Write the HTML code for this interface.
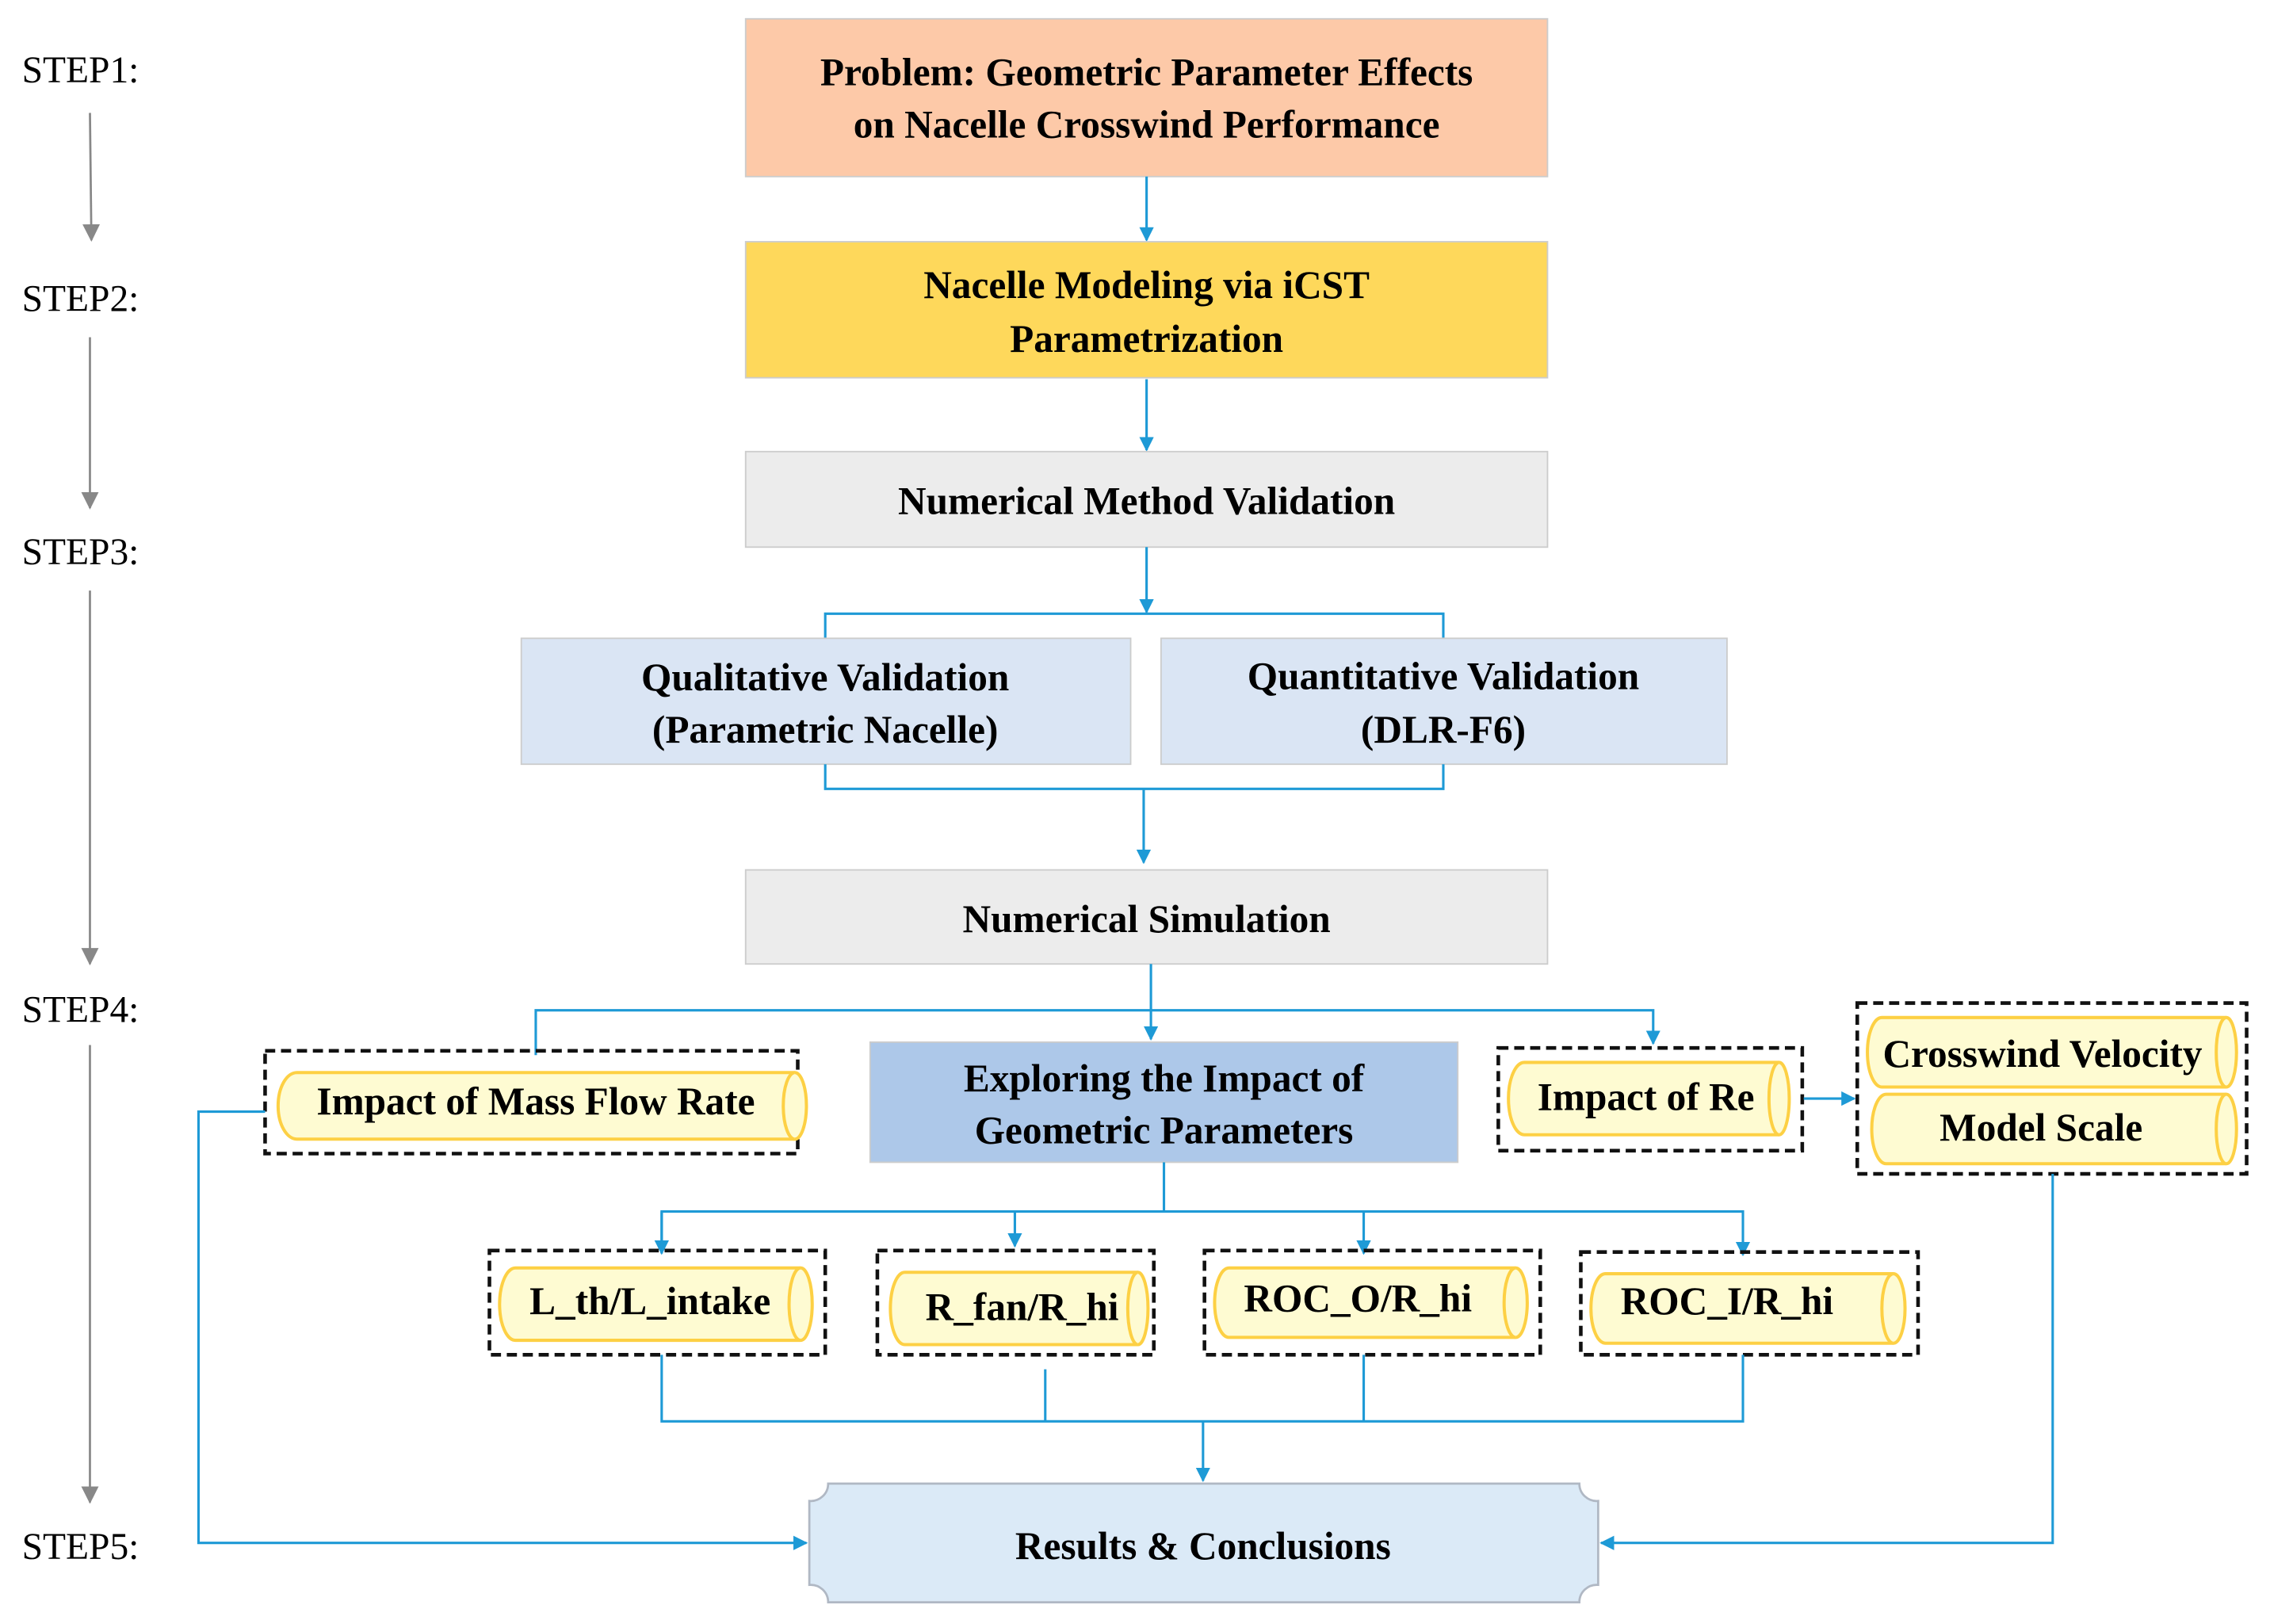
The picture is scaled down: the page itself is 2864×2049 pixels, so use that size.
<!DOCTYPE html>
<html><head><meta charset="utf-8"><style>
html,body{margin:0;padding:0;background:#fff;}
svg{display:block;}
text{font-family:"Liberation Serif",serif;font-weight:bold;font-size:27px;fill:#000;text-anchor:middle;}
.step{font-weight:normal;text-anchor:start;font-size:26px;}
.bl{stroke:#1e9ad6;stroke-width:1.7;fill:none;}
.gr{stroke:#888;stroke-width:1.5;fill:none;}
.dash{fill:none;stroke:#111;stroke-width:2.5;stroke-dasharray:7,4;}
.cyl{fill:#fefbd2;stroke:#fdd044;stroke-width:2.2;}
</style></head><body>
<svg width="2864" height="2049" viewBox="0 0 1568 1122" xmlns="http://www.w3.org/2000/svg">
<defs>
<marker id="ab" markerWidth="10" markerHeight="10" refX="9" refY="5" orient="auto" markerUnits="userSpaceOnUse" viewBox="0 0 10 10"><path d="M0,0 L10,5 L0,10z" fill="#1e9ad6" transform="scale(1)"/></marker>
<marker id="ag" markerWidth="12" markerHeight="12" refX="11" refY="6" orient="auto" markerUnits="userSpaceOnUse"><path d="M0,0 L12,6 L0,12z" fill="#888"/></marker>
</defs>
<style>.bl.a{marker-end:url(#ab);}</style>
<!-- steps -->
<text class="step" x="15" y="57">STEP1:</text>
<text class="step" x="15" y="215">STEP2:</text>
<text class="step" x="15" y="390">STEP3:</text>
<text class="step" x="15" y="706">STEP4:</text>
<text class="step" x="15" y="1077">STEP5:</text>
<line class="gr" x1="62" y1="78" x2="63" y2="166" marker-end="url(#ag)"/>
<line class="gr" x1="62" y1="233" x2="62" y2="351" marker-end="url(#ag)"/>
<line class="gr" x1="62" y1="408" x2="62" y2="666" marker-end="url(#ag)"/>
<line class="gr" x1="62" y1="722" x2="62" y2="1038" marker-end="url(#ag)"/>

<!-- box1 -->
<rect x="515" y="13" width="554" height="109" fill="#fdc9a8" stroke="#ccc"/>
<text x="792" y="59">Problem: Geometric Parameter Effects</text>
<text x="792" y="95">on Nacelle Crosswind Performance</text>
<line class="bl" x1="792" y1="122" x2="792" y2="166" marker-end="url(#ab)"/>
<rect x="515" y="167" width="554" height="94" fill="#fed85b" stroke="#ccc"/>
<text x="792" y="206">Nacelle Modeling via iCST</text>
<text x="792" y="243">Parametrization</text>
<line class="bl" x1="792" y1="262" x2="792" y2="311" marker-end="url(#ab)"/>
<rect x="515" y="312" width="554" height="66" fill="#ececec" stroke="#ccc"/>
<text x="792" y="355">Numerical Method Validation</text>
<line class="bl" x1="792" y1="378" x2="792" y2="423" marker-end="url(#ab)"/>
<polyline class="bl" points="570,441 570,424 997,424 997,441"/>
<rect x="360" y="441" width="421" height="87" fill="#dae5f4" stroke="#ccc"/>
<rect x="802" y="441" width="391" height="87" fill="#dae5f4" stroke="#ccc"/>
<text x="570" y="477">Qualitative Validation</text>
<text x="570" y="513">(Parametric Nacelle)</text>
<text x="997" y="476">Quantitative Validation</text>
<text x="997" y="513">(DLR-F6)</text>
<polyline class="bl" points="570,528 570,545 997,545 997,528"/>
<line class="bl" x1="790" y1="545" x2="790" y2="596" marker-end="url(#ab)"/>
<rect x="515" y="601" width="554" height="65" fill="#ececec" stroke="#ccc"/>
<text x="792" y="644">Numerical Simulation</text>

<line class="bl" x1="795" y1="666" x2="795" y2="718" marker-end="url(#ab)"/>
<polyline class="bl" points="370,729 370,698 1142,698 1142,721" marker-end="url(#ab)"/>

<!-- MFR -->
<rect class="dash" x="183" y="726" width="368" height="71"/>
<path class="cyl" d="M205,741 H549 A8,23 0 0 1 549,787 H205 A13,23 0 0 1 205,741 Z"/>
<path class="cyl" fill="none" d="M549,741 A8,23 0 0 0 549,787"/>
<text x="370" y="770">Impact of Mass Flow Rate</text>

<rect x="601" y="720" width="406" height="83" fill="#adc8e9" stroke="#ccc"/>
<text x="804" y="754">Exploring the Impact of</text>
<text x="804" y="790">Geometric Parameters</text>

<!-- Re -->
<rect class="dash" x="1035" y="724" width="210" height="71"/>
<path class="cyl" d="M1053,734 H1229 A7,25 0 0 1 1229,784 H1053 A11,25 0 0 1 1053,734 Z"/>
<path class="cyl" d="M1229,734 A7,25 0 0 0 1229,784"/>
<text x="1137" y="767">Impact of Re</text>
<line class="bl" x1="1246" y1="759" x2="1281" y2="759" marker-end="url(#ab)"/>

<rect class="dash" x="1283" y="693" width="269" height="118"/>
<path class="cyl" d="M1300,703 H1538 A7,24 0 0 1 1538,751 H1300 A10,24 0 0 1 1300,703 Z"/>
<path class="cyl" d="M1538,703 A7,24 0 0 0 1538,751"/>
<path class="cyl" d="M1303,756 H1538 A7,24 0 0 1 1538,804 H1303 A10,24 0 0 1 1303,756 Z"/>
<path class="cyl" d="M1538,756 A7,24 0 0 0 1538,804"/>
<text x="1411" y="737">Crosswind Velocity</text>
<text x="1410" y="788">Model Scale</text>

<!-- geometric branch -->
<line class="bl" x1="804" y1="803" x2="804" y2="837"/>
<polyline class="bl" points="457,866 457,837 1204,837 1204,867" marker-end="url(#ab)"/>
<line class="bl" x1="701" y1="837" x2="701" y2="861" marker-end="url(#ab)"/>
<line class="bl" x1="942" y1="837" x2="942" y2="866" marker-end="url(#ab)"/>
<line class="bl" x1="457" y1="837" x2="457" y2="866" marker-end="url(#ab)"/>

<rect class="dash" x="338" y="864" width="232" height="72"/>
<path class="cyl" d="M356,876 H553 A8,25 0 0 1 553,926 H356 A11,25 0 0 1 356,876 Z"/>
<path class="cyl" d="M553,876 A8,25 0 0 0 553,926"/>
<text x="449" y="908">L_th/L_intake</text>

<rect class="dash" x="606" y="864" width="191" height="72"/>
<path class="cyl" d="M625,879 H786 A7,25 0 0 1 786,929 H625 A10,25 0 0 1 625,879 Z"/>
<path class="cyl" d="M786,879 A7,25 0 0 0 786,929"/>
<text x="706" y="912">R_fan/R_hi</text>

<rect class="dash" x="832" y="864" width="232" height="72"/>
<path class="cyl" d="M849,876 H1047 A8,24 0 0 1 1047,924 H849 A10,24 0 0 1 849,876 Z"/>
<path class="cyl" d="M1047,876 A8,24 0 0 0 1047,924"/>
<text x="938" y="906">ROC_O/R_hi</text>

<rect class="dash" x="1092" y="865" width="233" height="71"/>
<path class="cyl" d="M1109,880 H1308 A8,24 0 0 1 1308,928 H1109 A10,24 0 0 1 1109,880 Z"/>
<path class="cyl" d="M1308,880 A8,24 0 0 0 1308,928"/>
<text x="1193" y="908">ROC_I/R_hi</text>

<polyline class="bl" points="457,936 457,982 1204,982 1204,936"/>
<line class="bl" x1="722" y1="946" x2="722" y2="982"/>
<line class="bl" x1="942" y1="936" x2="942" y2="982"/>
<line class="bl" x1="831" y1="982" x2="831" y2="1023" marker-end="url(#ab)"/>

<polyline class="bl" points="183,768 137,768 137,1066 557,1066" marker-end="url(#ab)"/>
<polyline class="bl" points="1418,811 1418,1066 1106,1066" marker-end="url(#ab)"/>

<!-- results -->
<path d="M572,1025 H1091 A12,12 0 0 0 1104,1037 V1095 A12,12 0 0 0 1091,1107 H572 A12,12 0 0 0 559,1095 V1037 A12,12 0 0 0 572,1025 Z" fill="#dbeaf7" stroke="#b0b8c4" stroke-width="1.5"/>
<text x="831" y="1077">Results &amp; Conclusions</text>
</svg>
</body></html>
